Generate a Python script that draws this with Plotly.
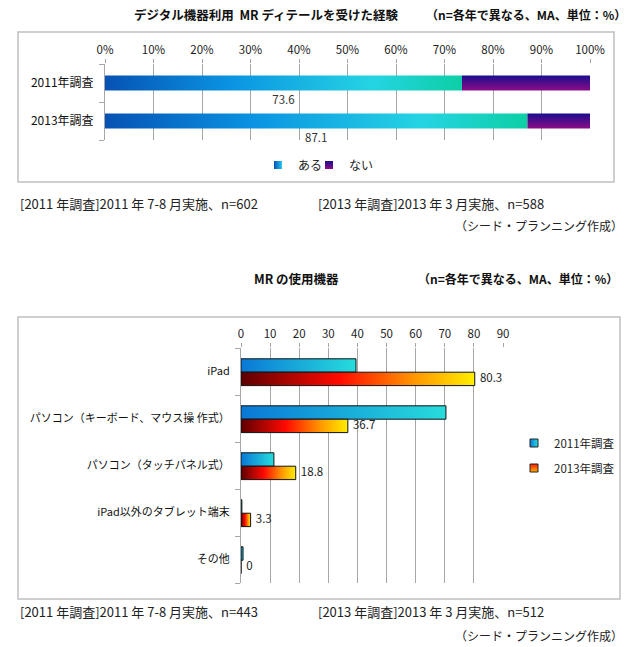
import plotly.graph_objects as go

W, H = 628, 647
FONT = "Noto Sans CJK JP"

# ---------------- data: chart 1 ----------------
survey_years = ["2011年調査", "2013年調査"]
exp_series = ["ある", "ない"]
experience_yes = [73.6, 87.1]
experience_no = [26.4, 12.9]
pct_ticks = [0, 10, 20, 30, 40, 50, 60, 70, 80, 90, 100]
pct_tick_labels = ["0%", "10%", "20%", "30%", "40%", "50%", "60%", "70%", "80%", "90%", "100%"]
title1_main = "デジタル機器利用  MR ディテールを受けた経験"
title_note = "（n=各年で異なる、MA、単位：%）"
note1_2011 = "[2011 年調査]2011 年 7-8 月実施、n=602"
note1_2013 = "[2013 年調査]2013 年 3 月実施、n=588"
credit = "（シード・プランニング作成）"

# ---------------- data: chart 2 ----------------
devices = ["iPad", "パソコン（キーボード、マウス操 作式）", "パソコン（タッチパネル式）",
           "iPad以外のタブレット端末", "その他"]
use_series = ["2011年調査", "2013年調査"]
use_2011 = [39.5, 70.4, 11.3, 0.3, 0.7]
use_2013 = [80.3, 36.7, 18.8, 3.3, 0.0]
use_ticks = [0, 10, 20, 30, 40, 50, 60, 70, 80, 90]
title2_main = "MR の使用機器"
note2_2011 = "[2011 年調査]2011 年 7-8 月実施、n=443"
note2_2013 = "[2013 年調査]2013 年 3 月実施、n=512"

# ---------------- styles ----------------
GRID = "#a6a6a6"
YES_SCALE = [[0, "#0652b3"], [0.35, "#0a93e2"], [0.75, "#25d4e3"], [1, "#0ccfa5"]]
NO_SCALE = [[0, "#1a0d8f"], [1, "#8c0c86"]]
S2011_SCALE = [[0, "#0a78d6"], [1, "#27dcdc"]]
S2013_SCALE = [[0, "#5c0000"], [0.42, "#ff0a00"], [0.75, "#ff9a00"], [1, "#ffee00"]]


def px(x):
    return x / W


def py(y):
    return 1 - y / H


def rect(x0, x1, y0, y1):
    return [x0, x1, x1, x0, x0], [y0, y0, y1, y1, y0]


fig = go.Figure()

# ---- chart 1 bars (stacked 100%) ----
HALF1 = 0.2
for i, cat in enumerate(survey_years):
    yes = experience_yes[i]
    no = experience_no[i]
    xs, ys = rect(0, yes, i - HALF1, i + HALF1)
    fig.add_trace(go.Scatter(x=xs, y=ys, fill="toself", mode="lines",
                             line=dict(width=0), fillcolor="#0a93e2",
                             fillgradient=dict(type="horizontal", colorscale=YES_SCALE),
                             name=exp_series[0], showlegend=False, hoverinfo="skip",
                             xaxis="x", yaxis="y"))
    xs, ys = rect(yes, yes + no, i - HALF1, i + HALF1)
    fig.add_trace(go.Scatter(x=xs, y=ys, fill="toself", mode="lines",
                             line=dict(width=0), fillcolor="#500c8a",
                             fillgradient=dict(type="vertical", colorscale=NO_SCALE,
                                               start=i - HALF1, stop=i + HALF1),
                             name=exp_series[1], showlegend=False, hoverinfo="skip",
                             xaxis="x", yaxis="y"))

fig.add_trace(go.Scatter(
    x=[v / 2 for v in experience_yes],
    y=[i + 0.49 for i in range(len(survey_years))],
    text=[f"{v:.1f}" for v in experience_yes], mode="text",
    textfont=dict(size=11.5, color="#333", family=FONT),
    cliponaxis=False, showlegend=False, hoverinfo="skip", xaxis="x", yaxis="y"))

# legend entries chart 1
fig.add_trace(go.Scatter(x=[None], y=[None], mode="markers", name=exp_series[0],
                         marker=dict(symbol="square", size=8, color="#0652b3",
                                     gradient=dict(type="horizontal", color="#27c8ee")),
                         legend="legend", xaxis="x", yaxis="y"))
fig.add_trace(go.Scatter(x=[None], y=[None], mode="markers", name=exp_series[1],
                         marker=dict(symbol="square", size=8, color="#1a0d8f",
                                     gradient=dict(type="vertical", color="#8c0c86")),
                         legend="legend2", xaxis="x", yaxis="y"))

# ---- chart 2 bars (grouped) ----
BW = 0.285
OFF = 0.015
for i, dev in enumerate(devices):
    xs, ys = rect(0, use_2011[i], i + OFF - BW, i + OFF)
    fig.add_trace(go.Scatter(x=xs, y=ys, fill="toself", mode="lines",
                             line=dict(width=1, color="#111"), fillcolor="#1aa8da",
                             fillgradient=dict(type="horizontal", colorscale=S2011_SCALE),
                             name=use_series[0], showlegend=False, hoverinfo="skip",
                             xaxis="x2", yaxis="y2"))
    xs, ys = rect(0, use_2013[i], i + OFF, i + OFF + BW)
    fig.add_trace(go.Scatter(x=xs, y=ys, fill="toself", mode="lines",
                             line=dict(width=1, color="#111"), fillcolor="#ff4000",
                             fillgradient=dict(type="horizontal", colorscale=S2013_SCALE),
                             name=use_series[1], showlegend=False, hoverinfo="skip",
                             xaxis="x2", yaxis="y2"))

fig.add_trace(go.Scatter(
    x=use_2013, y=[i + OFF + BW / 2 for i in range(len(devices))],
    text=["  " + (f"{v:.1f}" if v else "0") for v in use_2013], mode="text",
    textposition="middle right",
    textfont=dict(size=11.5, color="#222", family=FONT),
    cliponaxis=False, showlegend=False, hoverinfo="skip", xaxis="x2", yaxis="y2"))

fig.add_trace(go.Scatter(x=[None], y=[None], mode="markers", name=use_series[0],
                         marker=dict(symbol="square", size=8, color="#0a78d6",
                                     gradient=dict(type="horizontal", color="#27dcdc"),
                                     line=dict(width=1, color="#222")),
                         legend="legend3", xaxis="x2", yaxis="y2"))
fig.add_trace(go.Scatter(x=[None], y=[None], mode="markers", name=use_series[1],
                         marker=dict(symbol="square", size=8, color="#ff1a00",
                                     gradient=dict(type="vertical", color="#ffb000"),
                                     line=dict(width=1, color="#222")),
                         legend="legend4", xaxis="x2", yaxis="y2"))

# ---------------- layout ----------------
axis_common = dict(showgrid=True, gridcolor=GRID, gridwidth=1, zeroline=False,
                   showline=False, ticks="outside", ticklen=4, tickcolor=GRID,
                   automargin=False,
                   tickfont=dict(size=11.5, color="#222", family=FONT), fixedrange=True)

legend_common = dict(bgcolor="rgba(0,0,0,0)", borderwidth=0, xanchor="left",
                     yanchor="middle", orientation="v",
                     font=dict(size=12, color="#222", family=FONT))
legend_small = {**legend_common, "font": dict(size=11.5, color="#222", family=FONT)}

fig.update_layout(
    width=W, height=H, margin=dict(l=0, r=0, t=0, b=0, autoexpand=False),
    paper_bgcolor="white", plot_bgcolor="white",
    font=dict(family=FONT, color="#222"),
    xaxis=dict(domain=[px(105), px(590)], anchor="y", side="top", range=[0, 100],
               tickvals=pct_ticks, ticktext=pct_tick_labels, **axis_common),
    yaxis=dict(domain=[py(140), py(64)], anchor="x", range=[1.5, -0.5],
               tickvals=list(range(len(survey_years))), ticktext=survey_years,
               ticks="", showgrid=False, zeroline=False, showline=True, linecolor=GRID,
               ticklabelstandoff=8, automargin=False,
               minor=dict(tickvals=[-0.5, 0.5, 1.5], ticks="outside", ticklen=5,
                          tickcolor=GRID, showgrid=False),
               tickfont=dict(size=12, color="#111", family=FONT), fixedrange=True),
    xaxis2=dict(domain=[px(241), px(503)], anchor="y2", side="top", range=[0, 90],
                tickvals=use_ticks, **axis_common),
    yaxis2=dict(domain=[py(583), py(348)], anchor="x2", range=[4.5, -0.5],
                tickvals=list(range(len(devices))), ticktext=devices,
                ticks="", showgrid=False, zeroline=False, showline=True, linecolor=GRID,
                ticklabelstandoff=8, automargin=False,
                minor=dict(tickvals=[-0.5, 0.5, 1.5, 2.5, 3.5, 4.5], ticks="outside",
                           ticklen=5, tickcolor=GRID, showgrid=False),
                tickfont=dict(size=11, color="#111", family=FONT), fixedrange=True),
    legend=dict(x=px(258), y=py(165), **legend_common),
    legend2=dict(x=px(309), y=py(165), **legend_common),
    legend3=dict(x=px(514), y=py(443), **legend_small),
    legend4=dict(x=px(514), y=py(468), **legend_small),
    showlegend=True,
)

# frames around the two charts
fig.add_shape(type="rect", xref="paper", yref="paper", x0=px(18), x1=px(614),
              y0=py(182), y1=py(32), line=dict(color="#c0c0c0", width=1.5), layer="below")
fig.add_shape(type="rect", xref="paper", yref="paper", x0=px(18), x1=px(620),
              y0=py(599), y1=py(317), line=dict(color="#c0c0c0", width=1.5), layer="below")


def note(text, x, y, anchor="left", size=13, bold=False, color="#222"):
    fig.add_annotation(text=f"<b>{text}</b>" if bold else text, x=px(x), y=py(y),
                       xref="paper", yref="paper", xanchor=anchor, yanchor="middle",
                       showarrow=False, font=dict(size=size, color=color, family=FONT))


note(title1_main, 132, 15, size=12.5, bold=True, color="#111")
note(title_note, 424, 15, size=12, bold=True, color="#111")
note(note1_2011, 18, 204, size=13)
note(note1_2013, 316, 204, size=13)
note(credit, 625, 225, anchor="right", size=12)

note(title2_main, 252, 278, size=12.5, bold=True, color="#111")
note(title_note, 416, 278, size=12, bold=True, color="#111")
note(note2_2011, 18, 611, size=13)
note(note2_2013, 316, 611, size=13)
note(credit, 625, 635, anchor="right", size=12)

fig.write_html("out.html", config={"displayModeBar": False},
               post_script="document.body.style.margin='0px';document.body.style.overflow='hidden';")
